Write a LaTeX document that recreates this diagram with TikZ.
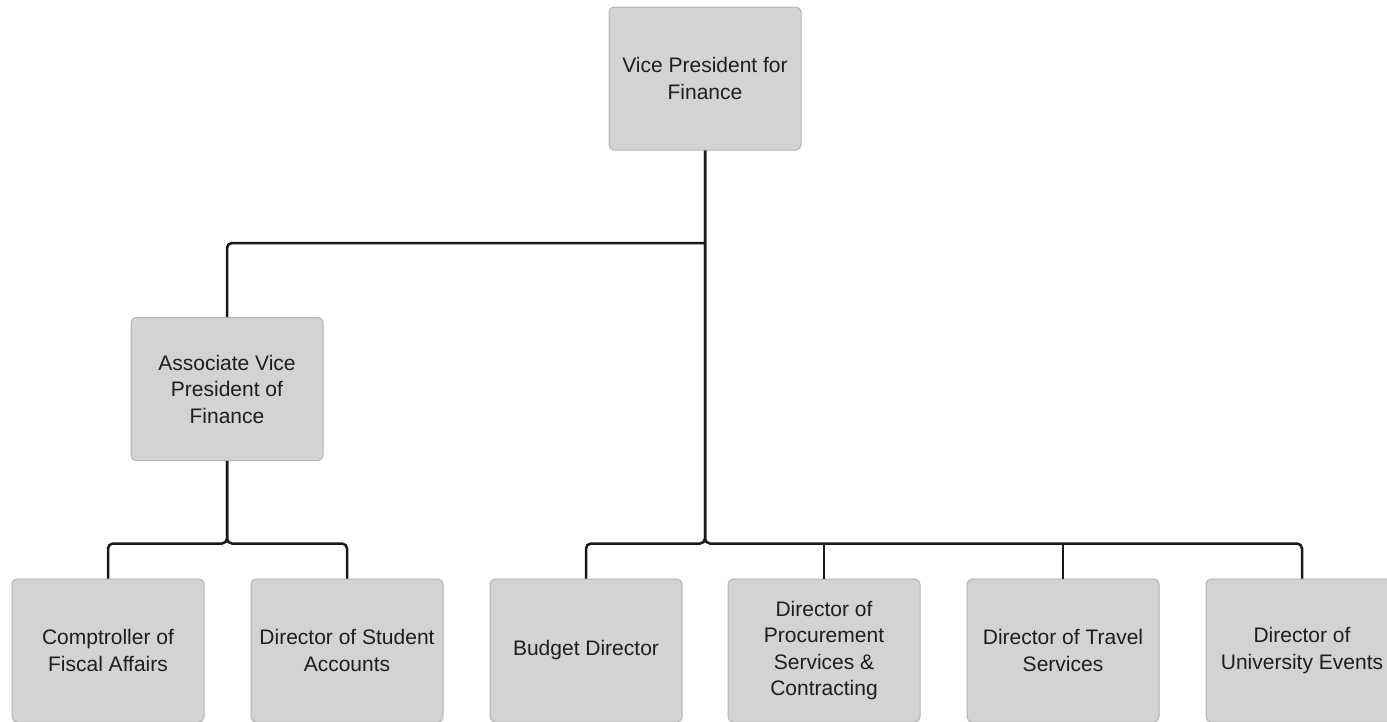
\documentclass[tikz,border=0pt]{standalone}
\usepackage{fontspec}
\setmainfont{Liberation Sans}
\usepackage{tikz}
\usepackage{xcolor}
\definecolor{boxgray}{HTML}{D3D3D3}
\definecolor{edgegray}{HTML}{B4B4B4}
\definecolor{textgray}{HTML}{1E1E1E}

\tikzset{
    rolebox/.style={draw=edgegray, line width=1pt, fill=boxgray, rounded corners=5pt,
        minimum width=192pt, minimum height=143pt, align=center, text=textgray,
        font=\fontsize{21}{26.5}\selectfont},
    link/.style={line width=2.5pt, black!90, rounded corners=5pt}
}

\begin{document}
\begin{tikzpicture}[x=1pt, y=-1pt]
            \useasboundingbox (0,0) rectangle (1387,721);
            \clip (0,0) rectangle (1387,721);

            \node[rolebox] (vp) at (705, 78.5) {Vice President for\\Finance};
            \node[rolebox] (avp) at (227, 389) {Associate Vice\\President of\\Finance};

            \node[rolebox] (comp) at (108, 650.5) {Comptroller of\\Fiscal Affairs};
            \node[rolebox] (stud) at (347, 650.5) {Director of Student\\Accounts};
            \node[rolebox] (bud) at (586, 650.5) {Budget Director};
            \node[rolebox] (proc) at (824, 650.5) {Director of\\Procurement\\Services \&\\Contracting};
            \node[rolebox] (trav) at (1063, 650.5) {Director of Travel\\Services};
            \node[rolebox] (evt) at (1302, 650.5) {Director of\\University Events};

            \coordinate (highbus) at (0, 243);
            \coordinate (lowbus) at (0, 543.5);

            \draw[link] (avp.north) |- (vp.south |- highbus);
            \draw[link] (bud.north) |- (vp.south |- lowbus) -- (vp.south);
            \draw[link] (evt.north) |- (vp.south |- lowbus) -- (vp.south);
            \draw[link] (proc.north) -- (proc.north |- lowbus);
            \draw[link] (trav.north) -- (trav.north |- lowbus);

            \draw[link] (comp.north) |- (avp.south |- lowbus) -- (avp.south);
            \draw[link] (stud.north) |- (avp.south |- lowbus) -- (avp.south);
        \end{tikzpicture}
\end{document}
